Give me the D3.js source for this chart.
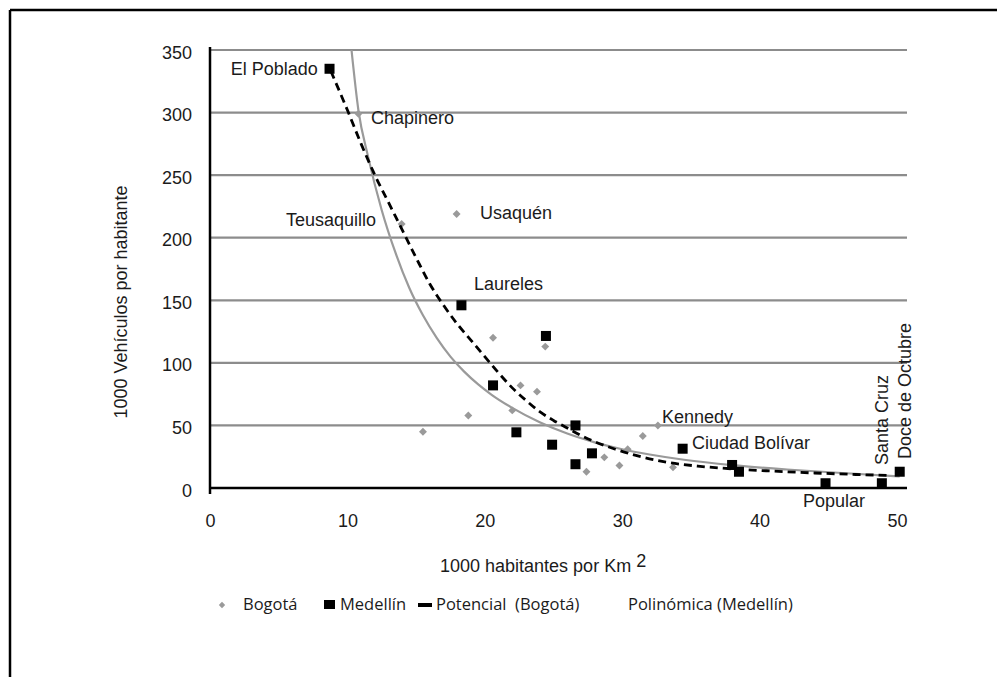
<!DOCTYPE html>
<html>
<head>
<meta charset="utf-8">
<script src="https://cdn.jsdelivr.net/npm/d3@7/dist/d3.min.js"></script>
<style>
  html, body { margin: 0; padding: 0; background: #fff; }
  svg { display: block; }
</style>
</head>
<body>
<svg id="chart" width="997" height="677"></svg>
<script>
// ---------- data ----------
const xTicks = [0, 10, 20, 30, 40, 50];
const yTicks = [0, 50, 100, 150, 200, 250, 300, 350];

// Bogotá (grey diamonds)
const bogotaX = [10.8, 13.95, 17.95, 15.5, 18.8, 20.6, 22.0, 22.6, 23.8, 24.4, 27.4, 28.7, 29.8, 30.4, 31.5, 32.6, 33.7];
const bogotaY = [299, 211, 219, 45, 58, 120, 62, 82, 77, 113, 13, 24.5, 18, 31, 41.5, 50, 16.5];

// Medellín (black squares)
const medellinX = [8.7, 18.3, 24.45, 20.6, 22.3, 24.9, 26.6, 26.6, 27.8, 34.4, 38.0, 38.5, 44.8, 48.9, 50.2];
const medellinY = [335, 146, 121.5, 82, 44.5, 34.6, 50, 19, 27.7, 31.4, 18.4, 13, 3.8, 3.8, 13];

// Trend line "Potencial (Bogotá)" – black dashed
const potencialX = [8.8, 10, 11, 12, 13, 14, 15, 16, 17, 18, 19, 20, 21, 22, 23, 24, 25, 26, 27, 28, 29.5, 31, 33, 35.5, 38, 41, 44, 47, 49.6];
const potencialY = [333, 302, 275, 250, 228, 206, 184, 163, 146, 131, 118, 105, 92, 80, 70, 61, 54, 48, 42, 37, 31, 26, 21, 17.5, 15.3, 13.5, 12, 10.8, 10];

// Trend line "Polinómica (Medellín)" – grey solid
const polinomicaX = [10.3, 10.8, 11.5, 12.5, 13.5, 14.5, 15.5, 16.5, 17.5, 18.5, 19.5, 20.5, 22, 24, 26, 28, 30, 32, 34.5, 38, 42, 46, 50.2];
const polinomicaY = [350, 302, 265, 222, 188, 160, 138, 120, 105, 93, 83, 74.5, 64, 52.5, 43.5, 36.5, 31, 26.8, 22.6, 18.3, 14.8, 12, 9.2];

// Annotations (text and the data point they are attached to)
const labelNames = ["El Poblado", "Chapinero", "Teusaquillo", "Usaquén", "Laureles", "Kennedy", "Ciudad Bolívar", "Popular", "Santa Cruz", "Doce de Octubre"];
const labelX = [7.85, 11.72, 12.08, 19.65, 19.21, 32.9, 35.08, 43.16, 48.9, 50.58];
const labelY = [335, 295.7, 214.2, 219.8, 163, 56.7, 36, -10.4, 18.4, 23.2];
const labelAnchor = ["end", "start", "end", "start", "start", "start", "start", "start", "start", "start"];
const labelRotated = [false, false, false, false, false, false, false, false, true, true];

const legendNames = ["Bogotá", "Medellín", "Potencial  (Bogotá)", "Polinómica (Medellín)"];

const yTitle = "1000 Vehículos por habitante";
const xTitle = "1000 habitantes por Km ";
const xTitleSup = "2";

// ---------- drawing ----------
const svg = d3.select("#chart");
const FONT = "'Liberation Sans', Arial, Helvetica, sans-serif";
const LEGFONT = "'Open Sans', 'Noto Sans', sans-serif";
const TXT = "#1b1b1b";
const FS = 18;

// outer frame (top and left edges visible)
svg.append("line").attr("x1", 10).attr("y1", 10).attr("x2", 997).attr("y2", 10)
  .attr("stroke", "#000").attr("stroke-width", 2.5);
svg.append("line").attr("x1", 10).attr("y1", 10).attr("x2", 10).attr("y2", 677)
  .attr("stroke", "#000").attr("stroke-width", 2.5);

const x = d3.scaleLinear().domain([0, 50.73]).range([210, 907]);
const y = d3.scaleLinear().domain([0, 350]).range([488, 50]);

// gridlines
svg.append("g").selectAll("line").data(yTicks.filter(d => d > 0)).join("line")
  .attr("x1", x(0)).attr("x2", x.range()[1])
  .attr("y1", d => y(d)).attr("y2", d => y(d))
  .attr("stroke", "#8c8c8c").attr("stroke-width", 2.2);

// y axis (labels only, line drawn separately)
const yAxis = d3.axisLeft(y).tickValues(yTicks).tickSize(0).tickPadding(18);
const gy = svg.append("g").attr("transform", `translate(${x(0)},0)`).call(yAxis);
gy.select(".domain").remove();
gy.selectAll("text").attr("font-family", FONT).attr("font-size", FS).attr("fill", TXT).attr("dy", "0.45em");

const xAxis = d3.axisBottom(x).tickValues(xTicks).tickSize(0).tickPadding(26);
const gx = svg.append("g").attr("transform", `translate(0,${y(0)})`).call(xAxis);
gx.select(".domain").remove();
gx.selectAll("text").attr("font-family", FONT).attr("font-size", FS).attr("fill", TXT);

// axis lines
svg.append("line").attr("x1", x(0)).attr("x2", x.range()[1]).attr("y1", y(0)).attr("y2", y(0))
  .attr("stroke", "#000").attr("stroke-width", 2.5);
svg.append("line").attr("x1", x(0)).attr("x2", x(0)).attr("y1", y(350) - 3).attr("y2", y(0) + 6)
  .attr("stroke", "#000").attr("stroke-width", 2.5);

// markers
const bogota = bogotaX.map((v, i) => ({ x: v, y: bogotaY[i] }));
const medellin = medellinX.map((v, i) => ({ x: v, y: medellinY[i] }));

svg.append("g").selectAll("path").data(bogota).join("path")
  .attr("d", d3.symbol().type(d3.symbolDiamond2).size(40))
  .attr("transform", d => `translate(${x(d.x)},${y(d.y)})`)
  .attr("fill", "#9a9a9a");

// trend lines
const line = d3.line().x(d => x(d.x)).y(d => y(d.y)).curve(d3.curveMonotoneX);
const polinomica = polinomicaX.map((v, i) => ({ x: v, y: polinomicaY[i] }));
const potencial = potencialX.map((v, i) => ({ x: v, y: potencialY[i] }));

svg.append("path").datum(polinomica).attr("d", line)
  .attr("fill", "none").attr("stroke", "#9a9a9a").attr("stroke-width", 2.2);

svg.append("g").selectAll("rect").data(medellin).join("rect")
  .attr("x", d => x(d.x) - 5).attr("y", d => y(d.y) - 5)
  .attr("width", 10).attr("height", 10).attr("fill", "#000");

svg.append("path").datum(potencial).attr("d", line)
  .attr("fill", "none").attr("stroke", "#000").attr("stroke-width", 2.8)
  .attr("stroke-dasharray", "8,5");

// annotations
const labels = labelNames.map((t, i) => ({ t, x: labelX[i], y: labelY[i], a: labelAnchor[i], r: labelRotated[i] }));
svg.append("g").selectAll("text").data(labels).join("text")
  .attr("transform", d => `translate(${x(d.x)},${y(d.y)})` + (d.r ? " rotate(-90)" : ""))
  .attr("text-anchor", d => d.a)
  .attr("dy", "0.35em")
  .attr("font-family", FONT).attr("font-size", FS).attr("fill", TXT)
  .text(d => d.t);

// axis titles
svg.append("text")
  .attr("transform", `translate(121,${302}) rotate(-90)`)
  .attr("text-anchor", "middle").attr("dy", "0.35em")
  .attr("font-family", FONT).attr("font-size", FS).attr("fill", TXT)
  .text(yTitle);

const xt = svg.append("text")
  .attr("x", 440).attr("y", 566).attr("dy", "0.35em")
  .attr("font-family", FONT).attr("font-size", FS).attr("fill", TXT);
xt.append("tspan").text(xTitle);
xt.append("tspan").attr("dy", "-0.3em").text(xTitleSup);

// legend
const legY = 604;
const lg = svg.append("g").attr("font-family", LEGFONT).attr("font-size", 16.5).attr("fill", TXT);
lg.append("path").attr("d", d3.symbol().type(d3.symbolDiamond2).size(26))
  .attr("transform", `translate(222,${legY + 1})`).attr("fill", "#9a9a9a");
lg.append("text").attr("x", 243).attr("y", legY).attr("dy", "0.35em").text(legendNames[0]);
lg.append("rect").attr("x", 324).attr("y", legY - 4).attr("width", 11).attr("height", 9).attr("fill", "#000");
lg.append("text").attr("x", 340).attr("y", legY).attr("dy", "0.35em").text(legendNames[1]);
lg.append("rect").attr("x", 418).attr("y", legY - 1).attr("width", 14).attr("height", 4).attr("fill", "#000");
lg.append("text").attr("x", 436).attr("y", legY).attr("dy", "0.35em")
  .style("white-space", "pre").text(legendNames[2]);
lg.append("text").attr("x", 628).attr("y", legY).attr("dy", "0.35em").text(legendNames[3]);
</script>
</body>
</html>
